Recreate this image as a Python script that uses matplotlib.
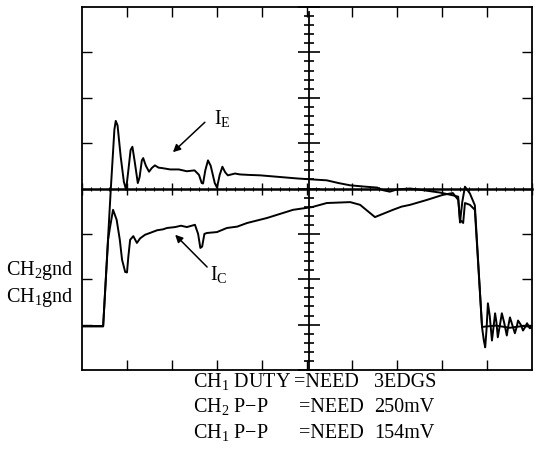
import matplotlib
matplotlib.use("Agg")
import matplotlib.pyplot as plt
from matplotlib.ticker import MultipleLocator

plt.rcParams['font.family'] = ['Liberation Serif', 'DejaVu Serif']
plt.rcParams['mathtext.fontset'] = 'custom'
plt.rcParams['mathtext.rm'] = 'Liberation Serif'
plt.rcParams['mathtext.it'] = 'Liberation Serif:italic'

# ---- trace data (screen divisions: x 0..10, y -4..4) ----
ie_x = [0.00, 0.47, 0.64, 0.72, 0.75, 0.79, 0.86, 0.93, 0.98, 1.03, 1.08, 1.12,
        1.17, 1.24, 1.28, 1.33, 1.36, 1.42, 1.49, 1.55, 1.62, 1.70, 1.78, 1.96,
        2.15, 2.33, 2.50, 2.60, 2.66, 2.69, 2.74, 2.80, 2.86, 2.95, 3.00, 3.06,
        3.12, 3.18, 3.24, 3.40, 3.51, 3.70, 3.96, 4.20, 4.56, 4.80, 5.11, 5.44,
        5.70, 5.96, 6.30, 6.56, 6.70, 6.84, 7.00, 7.29, 7.60, 7.96, 8.24, 8.36,
        8.40, 8.45, 8.51, 8.62, 8.73,
        8.89, 8.93, 8.96, 8.99, 9.02, 9.06, 9.11, 9.14, 9.18, 9.21, 9.24, 9.28,
        9.33, 9.38, 9.44, 9.47, 9.51, 9.56, 9.62, 9.66, 9.69, 9.75, 9.80, 9.85,
        9.89, 9.95, 10.00]
ie_y = [-3.04, -3.04, -0.01, 1.30, 1.49, 1.39, 0.70, 0.15, -0.03, 0.40, 0.85, 0.92,
        0.60, 0.12, 0.25, 0.62, 0.67, 0.50, 0.37, 0.45, 0.51, 0.46, 0.45, 0.42,
        0.42, 0.38, 0.40, 0.30, 0.12, 0.11, 0.40, 0.62, 0.50, 0.12, 0.02, 0.30,
        0.48, 0.36, 0.29, 0.33, 0.31, 0.30, 0.29, 0.27, 0.24, 0.22, 0.20, 0.18,
        0.12, 0.07, 0.04, 0.02, -0.04, -0.07, -0.02, 0.00, -0.04, -0.09, -0.15, -0.18,
        -0.75, -0.30, 0.04, -0.11, -0.37,
        -3.06, -3.35, -3.50, -3.10, -2.53, -2.80, -3.35, -3.10, -2.75, -2.95, -3.28, -3.05,
        -2.75, -2.95, -3.24, -3.05, -2.84, -3.00, -3.19, -3.05, -2.91, -3.00, -3.13, -3.05,
        -2.97, -3.08, -3.06]

ic_x = [0.00, 0.47, 0.58, 0.62, 0.69, 0.77, 0.84, 0.89, 0.96, 1.00, 1.03, 1.07,
        1.14, 1.22, 1.29, 1.40, 1.51, 1.67, 1.80, 1.89, 2.07, 2.20, 2.33, 2.51,
        2.58, 2.63, 2.67, 2.72, 2.78, 3.00, 3.22, 3.45, 3.67, 4.11, 4.40, 4.69,
        5.11, 5.44, 5.96, 6.18, 6.51, 6.91, 7.10, 7.29, 7.67, 8.02, 8.24, 8.36,
        8.40, 8.47, 8.51, 8.62, 8.73, 8.89, 9.20, 9.50, 9.80, 10.00]
ic_y = [-3.03, -3.03, -1.13, -0.87, -0.47, -0.69, -1.13, -1.57, -1.84, -1.85, -1.50, -1.13,
        -1.05, -1.20, -1.10, -1.02, -0.98, -0.92, -0.90, -0.87, -0.85, -0.82, -0.85, -0.80,
        -1.00, -1.31, -1.28, -1.00, -0.98, -0.96, -0.87, -0.84, -0.76, -0.65, -0.56, -0.47,
        -0.41, -0.32, -0.30, -0.36, -0.63, -0.47, -0.40, -0.36, -0.25, -0.14, -0.10, -0.25,
        -0.69, -0.76, -0.32, -0.36, -0.47, -3.05, -3.02, -3.07, -3.03, -3.05]

gnd_labels = [r"CH$_{\rm 2}$gnd", r"CH$_{\rm 1}$gnd"]
meas_names = [r"CH$_{\rm 1}$ DUTY", r"CH$_{\rm 2}$ P$-$P", r"CH$_{\rm 1}$ P$-$P"]
meas_need = ["=NEED", "=NEED", "=NEED"]
meas_values = ["3EDGS", "250mV", "154mV"]
trace_labels = [r"I$_{\rm E}$", r"I$_{\rm C}$"]

W, H = 536, 457
fig = plt.figure(figsize=(W / 100, H / 100), dpi=100)
L, R, T, B = 82, 532, 7, 370
rect = [L / W, 1 - B / H, (R - L) / W, (B - T) / H]

ax = fig.add_axes(rect)
ax.set_xlim(0, 10)
ax.set_ylim(-4, 4)
for s in ax.spines.values():
    s.set_linewidth(1.3)
ax.set_xticks(range(1, 10))
ax.set_yticks(range(-3, 4))
ax.tick_params(direction='in', length=7, width=1, top=True, right=True,
               labelbottom=False, labelleft=False)

# crosshair axes
ax2 = fig.add_axes(rect)
ax2.patch.set_visible(False)
ax2.set_xlim(0, 10)
ax2.set_ylim(-4, 4)
ax2.spines['top'].set_visible(False)
ax2.spines['right'].set_visible(False)
ax2.spines['left'].set_position(('data', 5.05))
ax2.spines['left'].set_bounds(-4, 3.9)
ax2.spines['bottom'].set_position(('data', 0))
ax2.spines['left'].set_linewidth(1.3)
ax2.spines['bottom'].set_linewidth(1.8)
ax2.xaxis.set_major_locator(MultipleLocator(1))
ax2.xaxis.set_minor_locator(MultipleLocator(0.2))
ax2.yaxis.set_major_locator(MultipleLocator(1))
ax2.yaxis.set_minor_locator(MultipleLocator(0.2))
ax2.tick_params(axis='y', which='major', direction='inout', length=16, width=1.2)
ax2.tick_params(axis='y', which='minor', direction='inout', length=7, width=1.2)
ax2.tick_params(axis='x', which='major', direction='inout', length=8, width=1)
ax2.tick_params(axis='x', which='minor', direction='inout', length=3, width=0.8)
ax2.tick_params(labelbottom=False, labelleft=False)

ax.plot(ie_x, ie_y, color='black', lw=1.4, solid_joinstyle='round')
ax.plot(ic_x, ic_y, color='black', lw=1.4, solid_joinstyle='round')

arrow = dict(arrowstyle='-|>', lw=1.1, color='black', mutation_scale=11,
             shrinkA=0, shrinkB=0)
ax.annotate('', xy=(2.02, 0.80), xytext=(2.73, 1.46), arrowprops=arrow)
ax.annotate('', xy=(2.07, -1.02), xytext=(2.78, -1.73), arrowprops=arrow)

fig.text(214 / W, 1 - 124 / H, trace_labels[0], fontsize=14.5, va='baseline')
fig.text(210 / W, 1 - 280 / H, trace_labels[1], fontsize=14.5, va='baseline')

fig.text(6 / W, 1 - 275 / H, gnd_labels[0], fontsize=14.5, va='baseline')
fig.text(6 / W, 1 - 302 / H, gnd_labels[1], fontsize=14.5, va='baseline')

baselines = [387, 412, 438]
eq_x = [294, 299, 299]
for i in range(3):
    y = 1 - baselines[i] / H
    fig.text(193 / W, y, meas_names[i], fontsize=14.5, va='baseline')
    fig.text(eq_x[i] / W, y, meas_need[i], fontsize=14.5, va='baseline')
    fig.text(374 / W, y, meas_values[i], fontsize=14.5, va='baseline')

fig.savefig('out.png', dpi=100)
